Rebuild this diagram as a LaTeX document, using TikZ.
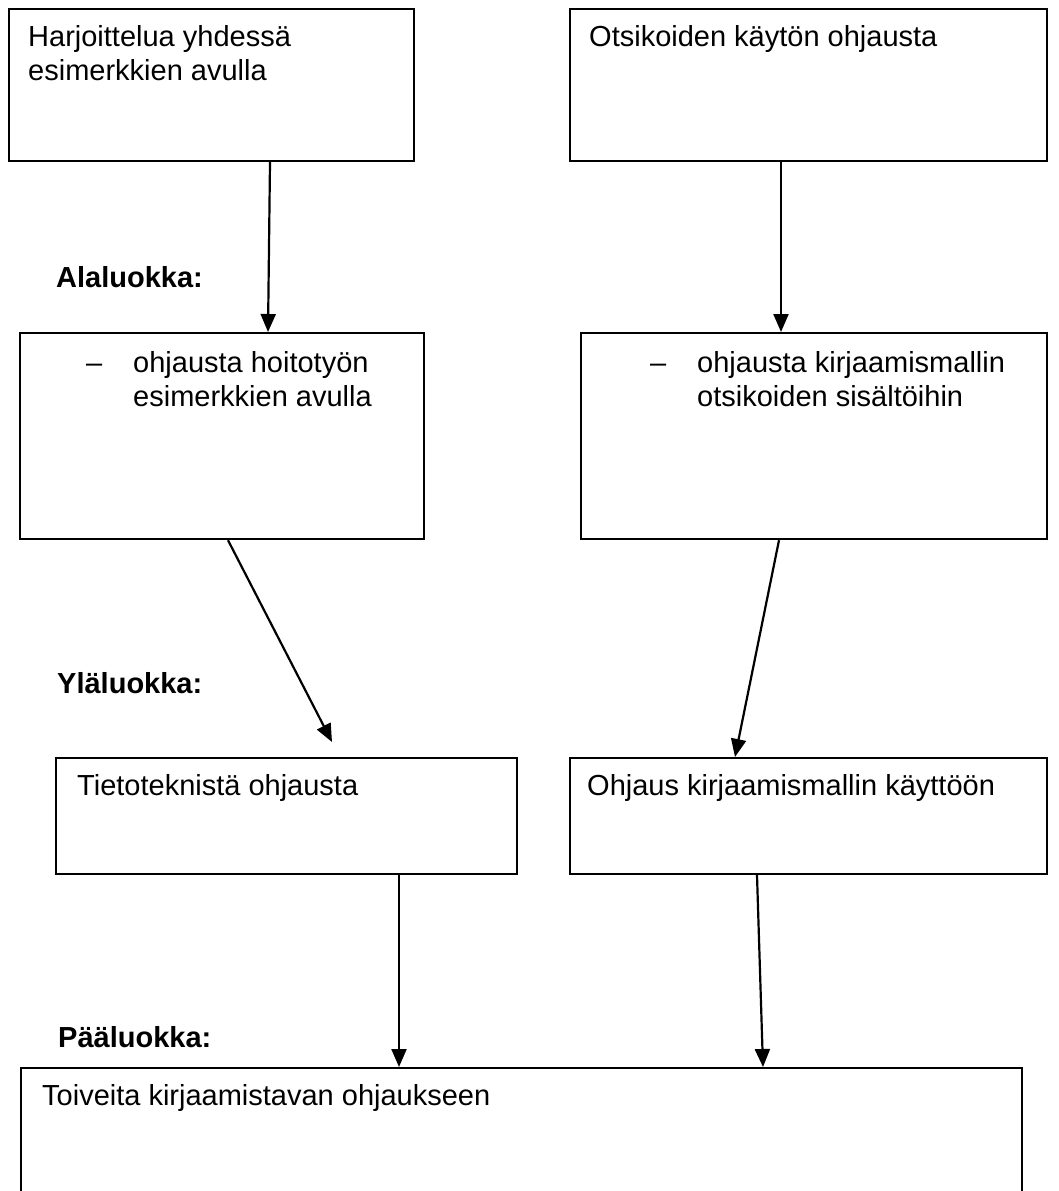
\documentclass[tikz,border=0pt]{standalone}
\usepackage{fontspec}
\setmainfont{Liberation Sans}
\usetikzlibrary{arrows.meta}
\tikzset{
  box/.style={draw=black, line width=2.2pt, rectangle, anchor=north west, inner sep=0pt},
  txt/.style={anchor=base west, inner sep=0pt, align=left, font=\fontsize{29}{33.5}\selectfont},
  lbl/.style={anchor=base west, inner sep=0pt, font=\fontsize{29}{34}\selectfont\bfseries},
  conn/.style={line width=2.2pt, -{Triangle[length=18pt,width=15pt]}}
}
\begin{document}
\begin{tikzpicture}[x=1pt,y=-1pt]
\useasboundingbox[fill=white] (0,0) rectangle (1059,1191);
% boxes
\node[box, minimum width=405pt, minimum height=152pt] (b1) at (8,8) {};
\node[box, minimum width=477pt, minimum height=152pt] (b2) at (569,8) {};
\node[box, minimum width=404pt, minimum height=206pt] (b3) at (19,332) {};
\node[box, minimum width=466pt, minimum height=206pt] (b4) at (580,332) {};
\node[box, minimum width=461pt, minimum height=116pt] (b5) at (55,757) {};
\node[box, minimum width=477pt, minimum height=116pt] (b6) at (569,757) {};
\node[box, minimum width=1001pt, minimum height=200pt] (b7) at (20,1067) {};
% texts (multi-line nodes are placed at the baseline of their last line)
\node[txt] (t1) at (28,80) {Harjoittelua yhdessä\\esimerkkien avulla};
\node[txt] (t2) at (589,46) {Otsikoiden käytön ohjausta};
\node[txt] (d3) at (86,372) {–};
\node[txt] (t3) at (133,406) {ohjausta hoitotyön\\esimerkkien avulla};
\node[txt] (d4) at (650,372) {–};
\node[txt] (t4) at (697,406) {ohjausta kirjaamismallin\\otsikoiden sisältöihin};
\node[txt] (t5) at (77,795) {Tietoteknistä ohjausta};
\node[txt] (t6) at (587,795) {Ohjaus kirjaamismallin käyttöön};
\node[txt] (t7) at (42,1105) {Toiveita kirjaamistavan ohjaukseen};
% labels
\node[lbl] (l1) at (56,287) {Alaluokka:};
\node[lbl] (l2) at (57,693) {Yläluokka:};
\node[lbl] (l3) at (58,1047) {Pääluokka:};
% connectors
\draw[conn] ([xshift=262pt]b1.south west) -- ([xshift=249pt]b3.north west);
\draw[conn] ([xshift=212pt]b2.south west) -- ([xshift=201pt]b4.north west);
\draw[conn] ([xshift=209pt]b3.south west) -- ([xshift=277pt,yshift=15pt]b5.north west);
\draw[conn] ([xshift=199pt]b4.south west) -- ([xshift=166pt]b6.north west);
\draw[conn] ([xshift=344pt]b5.south west) -- ([xshift=379pt]b7.north west);
\draw[conn] ([xshift=188pt]b6.south west) -- ([xshift=743pt]b7.north west);
\end{tikzpicture}
\end{document}
